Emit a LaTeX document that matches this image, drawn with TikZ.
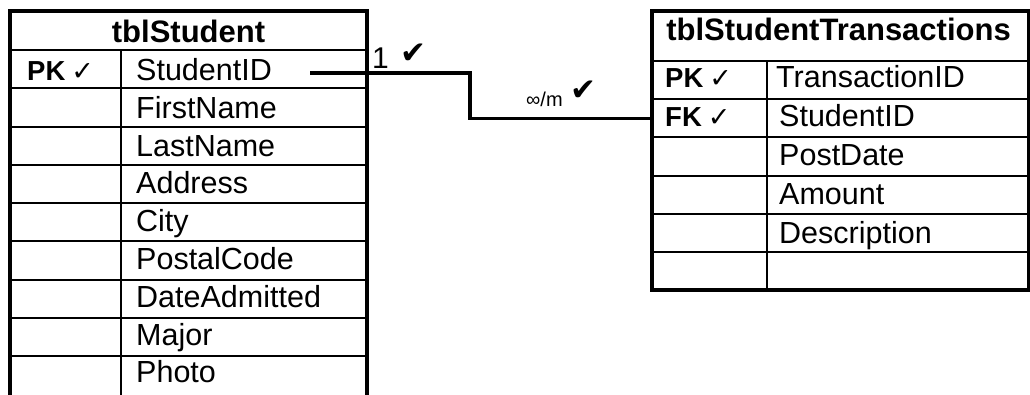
\documentclass[tikz,border=0pt]{standalone}
\usepackage{fontspec}
\setmainfont{Liberation Sans}
\newfontfamily\symfont{DejaVu Sans}
\newcommand\ktick{{\symfont\fontsize{27}{28}\selectfont ✓}}
\begin{document}
\begin{tikzpicture}[x=1pt,y=-1pt,
  outer/.style={line width=4pt},
  inner/.style={line width=2pt},
  conn/.style={line width=3.3pt},
  fld/.style={anchor=base west,inner sep=0pt,font=\fontsize{30.5}{36}\selectfont},
  hdr/.style={anchor=base,inner sep=0pt,font=\bfseries\fontsize{31}{36}\selectfont},
  keylab/.style={anchor=base west,inner sep=0pt,font=\bfseries\fontsize{27.5}{32}\selectfont},
  rel/.style={anchor=base west,inner sep=0pt},
  relchk/.style={anchor=base west,inner sep=0pt,font=\symfont\fontsize{31}{32}\selectfont}
]
\useasboundingbox (0,0) rectangle (1030,394);
\fill[white] (0,0) rectangle (1030,394);

% ---- tblStudent ----
\foreach \i in {0,...,8}
  \draw[inner] (10,{50+38.25*\i}) -- (367,{50+38.25*\i});
\draw[inner] (121,50) -- (121,400);
\draw[outer] (10,400) -- (10,11) -- (367,11) -- (367,400);

\node[hdr] (sh) at (188.5,42.5) {tblStudent};
\node[keylab] (spk) at (27,80.5) {PK\hspace{6pt}\ktick};
\foreach \t [count=\i from 0] in {StudentID,FirstName,LastName,Address,City,PostalCode,DateAdmitted,Major,Photo}
  \node[fld] (sf\i) at (136,{80.5+37.8*\i}) {\t};

% ---- tblStudentTransactions ----
\foreach \i in {0,...,5}
  \draw[inner] (652,{61+38.2*\i}) -- (1029,{61+38.2*\i});
\draw[inner] (767,61) -- (767,290);
\draw[outer] (652,11) rectangle (1029,290);

\node[hdr] (th) at (838.5,40) {tblStudentTransactions};
\node[keylab] (tpk) at (665,87.5) {PK\hspace{6pt}\ktick};
\node[keylab] (tfk) at (665,126.5) {FK\hspace{6pt}\ktick};
\node[fld] (tf0) at (776,87.5) {TransactionID};
\node[fld] (tf1) at (779,126.5) {StudentID};
\node[fld] (tf2) at (779,165.5) {PostDate};
\node[fld] (tf3) at (779,204.5) {Amount};
\node[fld] (tf4) at (779,243.5) {Description};

% ---- relationship ----
\coordinate (cs) at (310,73);
\coordinate (ce) at (652,118.3);
\draw[conn] (cs) -- (470,73) |- (ce);

\node[rel,font=\fontsize{30}{36}\selectfont] (one) at (372,68) {1};
\node[relchk] (onechk) at (400,63) {✔};
\node[rel,font=\fontsize{20}{24}\selectfont] (many) at (526,106) {∞/m};
\node[relchk] (manychk) at (570,100) {✔};
\end{tikzpicture}
\end{document}
